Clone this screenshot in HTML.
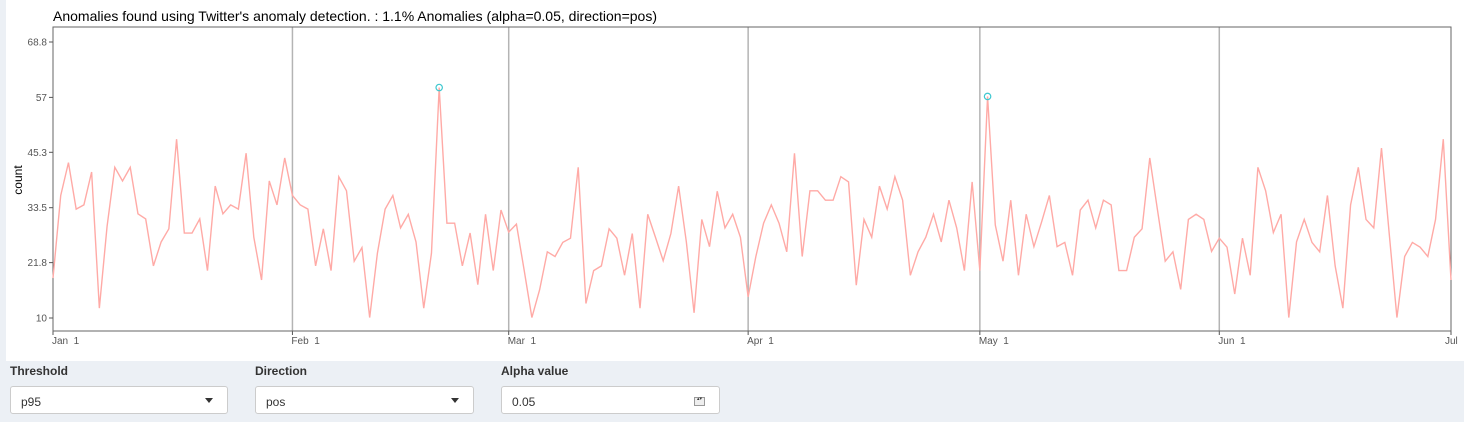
<!DOCTYPE html>
<html><head><meta charset="utf-8">
<style>
body{margin:0;width:1464px;height:422px;background:#ecf0f5;font-family:"Liberation Sans",sans-serif;position:relative;overflow:hidden}
#box{position:absolute;left:6px;top:0;width:1458px;height:361px;background:#fff}
.lbl{position:absolute;top:364px;font-weight:bold;font-size:12px;color:#333;font-family:"Liberation Sans Narrow","Liberation Sans",sans-serif}
.sel{position:absolute;top:386px;height:28px;border:1px solid #ccc;border-radius:3px;background:#fff;font-size:12px;color:#333;box-sizing:border-box;padding:8px 0 0 10px}
.arrow{position:absolute;right:14px;top:11px;width:0;height:0;border-left:4px solid transparent;border-right:4px solid transparent;border-top:5px solid #333}
</style></head><body>
<div id="box"></div>
<svg id="chart" width="1464" height="361" style="position:absolute;left:0;top:0"></svg>
<div class="lbl" style="left:10px">Threshold</div>
<div class="sel" style="left:10px;width:218px">p95<span class="arrow"></span></div>
<div class="lbl" style="left:255px">Direction</div>
<div class="sel" style="left:255px;width:219px">pos<span class="arrow"></span></div>
<div class="lbl" style="left:501px">Alpha value</div>
<div class="sel" style="left:501px;width:219px">0.05<span style="position:absolute;right:14px;top:10px;width:9px;height:7px;border:1px solid #999;background:#eee;font-size:5px;line-height:3px;text-align:center">▴▾</span></div>
<script>
const values=[18.5,36.1,43.1,33.2,34.1,41.1,12.1,29.5,42.1,39.2,42.1,32.2,31.1,21.1,26.2,29.0,48.1,28.1,28.1,31.1,20.1,38.1,32.2,34.1,33.2,45.1,27.2,18.1,39.2,34.1,44.1,
36.1,34.1,33.2,21.1,29.0,20.1,40.1,37.1,22.1,25.0,10.1,23.8,33.2,36.1,29.2,32.1,26.2,12.1,23.8,59.1,30.2,30.2,21.1,28.1,17.1,32.1,20.1,33.0,
28.3,30.0,20.2,10.1,16.0,24.1,23.1,26.1,27.0,42.1,13.1,20.1,21.1,29.0,27.0,19.1,28.0,12.1,32.1,27.2,22.2,28.0,38.1,26.2,11.1,31.0,25.2,37.0,29.2,32.1,27.2,
14.5,23.1,30.2,34.1,30.2,24.1,45.1,23.1,37.1,37.1,35.1,35.1,40.1,39.0,17.0,31.0,27.2,38.1,33.2,40.1,35.1,19.1,24.1,27.2,32.1,26.2,35.1,29.2,20.1,39.0,
20.1,57.2,29.8,22.1,35.1,19.1,32.1,25.2,30.5,36.1,25.2,26.1,19.1,33.0,35.1,29.2,35.1,34.1,20.1,20.1,27.2,29.0,44.1,33.0,22.1,24.1,16.1,31.0,32.1,31.0,24.2,
27.0,25.1,15.1,27.0,19.1,42.1,37.1,28.2,32.1,10.1,26.2,31.0,26.1,24.1,36.1,21.1,12.1,34.1,42.1,31.0,29.2,46.2,28.0,10.1,23.1,26.1,25.1,23.1,31.0,48.1,18.1];
const anomalyIdx=[50,121];
const yTicks=[10,21.8,33.5,45.3,57,68.8];
const monthLabels=["Jan\u00a0\u00a01","Feb\u00a0\u00a01","Mar\u00a0\u00a01","Apr\u00a0\u00a01","May\u00a0\u00a01","Jun\u00a0\u00a01","Jul"];
const monthIdx=[0,31,59,90,120,151,181];
const L=53,R=1451,T=27,B=331;
const xs=i=>L+i*(R-L)/181;
const ys=v=>318-(v-10)*(276/58.8);
const svg=document.getElementById('chart');const NS='http://www.w3.org/2000/svg';
function mk(t,a){const e=document.createElementNS(NS,t);for(const k in a)e.setAttribute(k,a[k]);svg.appendChild(e);return e;}
let e=mk('text',{x:53,y:21,'font-size':14,fill:'#000'});e.textContent="Anomalies found using Twitter's anomaly detection. : 1.1% Anomalies (alpha=0.05, direction=pos)";


monthIdx.forEach((m,k)=>{const x=xs(m);
 if(k>0&&k<6){const g=mk('line',{x1:x,x2:x,y1:T,y2:B,stroke:'#b4b4b4','stroke-width':1.5});
 
 }
 mk('line',{x1:x,x2:x,y1:B,y2:B+4,stroke:'#555'});
 const t=mk('text',{x:k==6?x-6:x-1,y:344,'font-size':10,fill:'#555'});t.textContent=monthLabels[k];
 
 });
e=mk('rect',{x:L,y:T,width:R-L,height:B-T,fill:'none',stroke:'#666','stroke-width':1});


yTicks.forEach(v=>{const y=ys(v);mk('line',{x1:L-4,x2:L,y1:y,y2:y,stroke:'#555'});
 const t=mk('text',{x:L-6,y:y+3.5,'font-size':10,fill:'#555','text-anchor':'end'});t.textContent=v;
 
 });
e=mk('text',{x:22,y:180,'font-size':12,fill:'#000','text-anchor':'middle',transform:'rotate(-90 22 180)'});e.textContent='count';


e=mk('polyline',{points:values.map((v,i)=>xs(i)+','+ys(v)).join(' '),fill:'none',stroke:'#ffaaa6','stroke-width':1.4});


anomalyIdx.forEach(i=>{const c=mk('circle',{cx:xs(i),cy:ys(values[i]),r:3.2,fill:'none',stroke:'#3fc8d0','stroke-width':1.2});
 
 });
</script>
</body></html>
